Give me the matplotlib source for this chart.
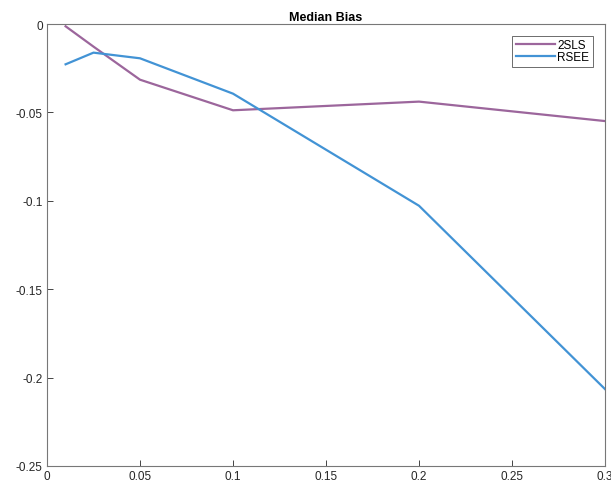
import numpy as np
import matplotlib
matplotlib.use('Agg')
import matplotlib.pyplot as plt

rcParams = {
        'font.family': ['Liberation Sans', 'DejaVu Sans'],
        'font.size': 8.5,
        }
plt.rcParams.update(rcParams)

# median bias by first-stage strength
x_vals = [0.01, 0.025, 0.05, 0.1, 0.2, 0.3]
bias_2sls = [-0.0013, -0.0128, -0.0315, -0.0488, -0.0439, -0.0549]
bias_rsee = [-0.0228, -0.0162, -0.0194, -0.0394, -0.1028, -0.2065]
xticks = [0, 0.05, 0.1, 0.15, 0.2, 0.25, 0.3]
xticklabels = ['0', '0.05', '0.1', '0.15', '0.2', '0.25', '0.3']
yticks = [0, -0.05, -0.1, -0.15, -0.2, -0.25]
yticklabels = ['0', '-0.05', '-0.1', '-0.15', '-0.2', '-0.25']

fig = plt.figure(figsize=(6.11, 4.89), dpi=100)
ax = fig.add_axes([47/611, 22/489, 558/611, 442/489])

ax.plot(x_vals, bias_2sls, color='#9c669c', lw=1.6, label='2SLS')
ax.plot(x_vals, bias_rsee, color='#4293d5', lw=1.6, label='RSEE')

ax.set_xlim(0, 0.3)
ax.set_ylim(-0.25, 0)
ax.set_xticks(xticks)
ax.set_xticklabels(xticklabels)
ax.set_yticks(yticks)
ax.set_yticklabels(yticklabels)
ax.tick_params(direction='in', length=4, width=0.6, colors='#262626', pad=3)
for sp in ax.spines.values():
    sp.set_color('#777777')
    sp.set_linewidth(0.8)
ax.set_title('Median Bias', fontsize=9, fontweight='bold', pad=3)

leg = ax.legend(loc='upper right', bbox_to_anchor=(0.9785, 0.973),
                fontsize=8.5, fancybox=False, framealpha=1, edgecolor='#555555',
                handlelength=3.3, handletextpad=0.25, borderpad=0.3,
                labelspacing=0.0, borderaxespad=0)
leg.get_frame().set_linewidth(0.6)

fig.savefig('out.png', dpi=100)
